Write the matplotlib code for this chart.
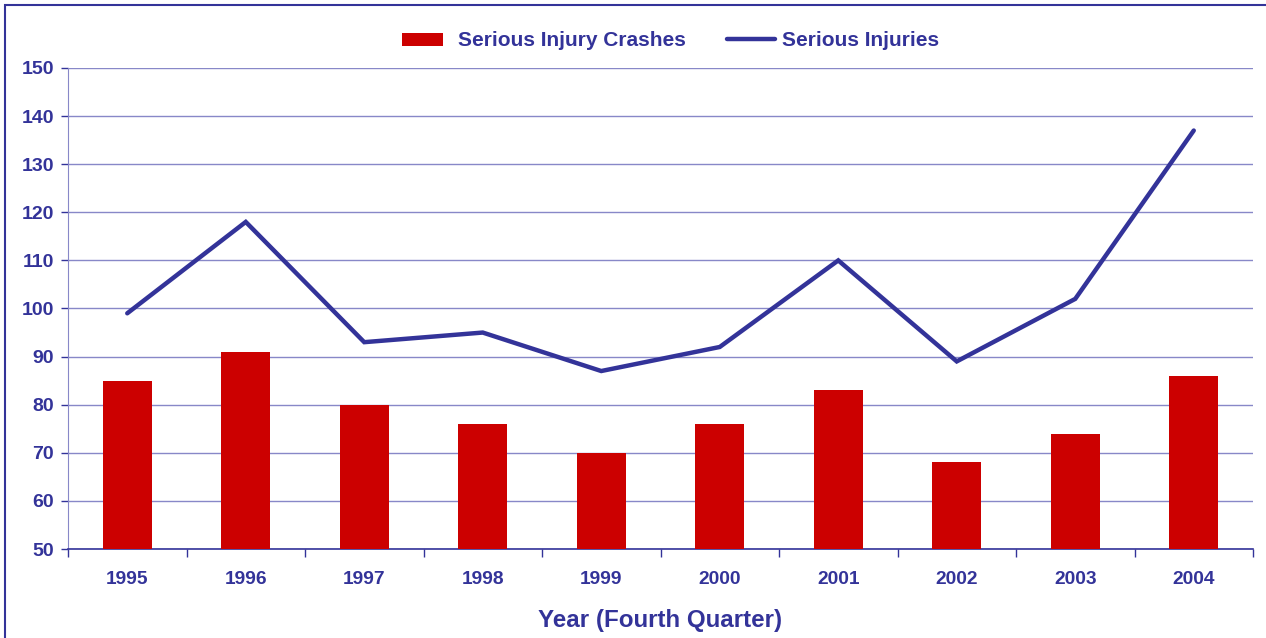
import matplotlib
matplotlib.use("Agg")
import matplotlib.pyplot as plt
from matplotlib.patches import Rectangle
import numpy as np

years = ["1995", "1996", "1997", "1998", "1999", "2000", "2001", "2002", "2003", "2004"]
crashes = [85, 91, 80, 76, 70, 76, 83, 68, 74, 86]
injuries = [99, 118, 93, 95, 87, 92, 110, 89, 102, 137]

navy = "#333399"
grid_c = "#8888C8"
red = "#CC0000"

plt.rcParams['font.family'] = ['Liberation Sans', 'DejaVu Sans']
fig = plt.figure(figsize=(12.66, 6.38), dpi=100)
ax = fig.add_axes([68/1266, 1-549/638, (1253-68)/1266, (549-68)/638])

x = np.arange(len(years))
bars = ax.bar(x, [c - 50 for c in crashes], bottom=50, width=0.41, color=red, zorder=3,
              label="Serious Injury Crashes")
line, = ax.plot(x, injuries, color=navy, lw=3.2, zorder=4, label="Serious Injuries",
                solid_capstyle='round', solid_joinstyle='miter')

ax.set_xlim(-0.5, len(years) - 0.5)
ax.set_ylim(50, 150)
ax.set_yticks(range(50, 151, 10))
ax.yaxis.grid(True, color=grid_c, lw=1.0, zorder=0)
ax.set_axisbelow(True)

ax.set_xticks(np.arange(-0.5, len(years), 1.0))
ax.set_xticklabels([])
ax.set_xticks(x, minor=True)
ax.set_xticklabels(years, minor=True)
ax.tick_params(axis='x', which='major', direction='out', length=6, color=navy, width=1)
ax.tick_params(axis='x', which='minor', length=0, pad=16, labelsize=13.8, labelcolor=navy)
ax.tick_params(axis='y', direction='out', length=5, color=navy, width=1, labelsize=14,
               labelcolor=navy, pad=5)
for lbl in ax.get_xticklabels(minor=True) + ax.get_yticklabels():
    lbl.set_fontweight('bold')

for s in ['top', 'right']:
    ax.spines[s].set_visible(False)
ax.spines['left'].set_color(grid_c)
ax.spines['bottom'].set_color(navy)
ax.spines['bottom'].set_linewidth(1.2)

ax.set_xlabel("Year (Fourth Quarter)", fontsize=17.4, fontweight='bold', color=navy, labelpad=15)

fs = 15
fpx = fs * 100 / 72
leg1 = fig.legend([bars], ["Serious Injury Crashes"], loc='center left',
                  bbox_to_anchor=(402/1266, 1-41/638), frameon=False,
                  prop={'size': fs, 'weight': 'bold'}, handlelength=41/fpx,
                  handletextpad=15/fpx, handleheight=0.6, borderpad=0, borderaxespad=0)
leg2 = fig.legend([line], ["Serious Injuries"], loc='center left',
                  bbox_to_anchor=(727/1266, 1-41/638), frameon=False,
                  prop={'size': fs, 'weight': 'bold'}, handlelength=48/fpx,
                  handletextpad=7/fpx, borderpad=0, borderaxespad=0)
for lg in (leg1, leg2):
    for t in lg.get_texts():
        t.set_color(navy)

fig.patches.append(Rectangle((5/1266, -0.1), 1.2, 1 - 5/638 + 0.1, transform=fig.transFigure,
                             fill=False, edgecolor=navy, lw=1.5))

fig.savefig("out.png", dpi=100)
